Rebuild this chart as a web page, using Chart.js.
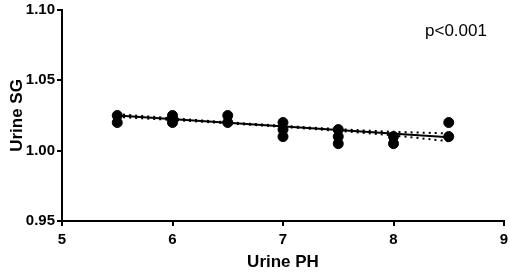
<!DOCTYPE html>
<html><head><meta charset="utf-8">
<script src="https://cdn.jsdelivr.net/npm/chart.js@4"></script>
<style>html,body{margin:0;padding:0;background:#fff}canvas{display:block}</style>
</head><body>
<canvas id="c" width="510" height="273"></canvas>
<script>
const pointX = [5.5,5.5,6,6,6,6.5,6.5,7,7,7,7.5,7.5,7.5,8,8,8.5,8.5];
const pointY = [1.025,1.02,1.025,1.0225,1.02,1.025,1.02,1.02,1.015,1.01,1.015,1.01,1.005,1.01,1.005,1.02,1.01];
const fitX = [5.5,8.5];
const fitY = [1.0250,1.0095];
const bandX = [5.5,6,6.5,7,7.5,8,8.5];
const upperY = [1.0260,1.0230,1.0202,1.0177,1.0153,1.0134,1.0123];
const lowerY = [1.0240,1.0218,1.0194,1.0169,1.0141,1.0108,1.0067];
const xTicks = [5,6,7,8,9];
const yTicks = [0.95,1.00,1.05,1.10];
const pText = 'p<0.001';

const toXY = (xs, ys) => xs.map((x,i)=>({x:x,y:ys[i]}));
const F = 'Liberation Sans, Arial, sans-serif';

const annot = {
  id:'annot',
  afterDraw(chart){
    const ctx = chart.ctx;
    ctx.save();
    ctx.fillStyle = '#000';
    ctx.font = '17px ' + F;
    ctx.textBaseline = 'middle';
    ctx.textAlign = 'left';
    ctx.fillText(pText, 425, 31);
    ctx.restore();
  }
};

new Chart(document.getElementById('c'), {
  type:'scatter',
  data:{datasets:[
    {data:toXY(pointX,pointY), backgroundColor:'#000', borderColor:'#000', pointRadius:5, pointHoverRadius:5, order:0},
    {type:'line', data:toXY(fitX,fitY), borderColor:'#000', borderWidth:2, pointRadius:0, fill:false, order:1},
    {type:'line', data:toXY(bandX,upperY), borderColor:'#000', borderWidth:2, borderDash:[2,4], pointRadius:0, fill:false, tension:0.3, order:2},
    {type:'line', data:toXY(bandX,lowerY), borderColor:'#000', borderWidth:2, borderDash:[2,4], pointRadius:0, fill:false, tension:0.3, order:2}
  ]},
  options:{
    responsive:false, animation:false,
    layout:{padding:{top:10,right:6,left:0,bottom:0}},
    plugins:{legend:{display:false}, tooltip:{enabled:false}},
    scales:{
      x:{type:'linear', min:5, max:9,
        afterBuildTicks(s){ s.ticks = xTicks.map(v=>({value:v})); },
        afterFit(s){ s.height = 52; s.paddingRight = 0; s.paddingLeft = 0; },
        grid:{drawOnChartArea:false, drawTicks:true, tickLength:5, color:'#000', lineWidth:2},
        border:{color:'#000', width:2},
        ticks:{color:'#000', font:{family:F, size:15, weight:'bold'}, padding:5, maxRotation:0},
        title:{display:true, text:'Urine PH', color:'#000', font:{family:F, size:17, weight:'bold'}, padding:{top:4,bottom:0}}
      },
      y:{type:'linear', min:0.95, max:1.10,
        afterBuildTicks(s){ s.ticks = yTicks.map(v=>({value:v})); },
        afterFit(s){ s.width = 62; s.paddingTop = 0; s.paddingBottom = 0; },
        grid:{drawOnChartArea:false, drawTicks:true, tickLength:5, color:'#000', lineWidth:2},
        border:{color:'#000', width:2},
        ticks:{color:'#000', font:{family:F, size:15, weight:'bold'}, padding:2, callback:v=>Number(v).toFixed(2)},
        title:{display:true, text:'Urine SG', color:'#000', font:{family:F, size:17, weight:'bold'}, padding:{top:7,bottom:2}}
      }
    }
  },
  plugins:[annot]
});
</script>
</body></html>
